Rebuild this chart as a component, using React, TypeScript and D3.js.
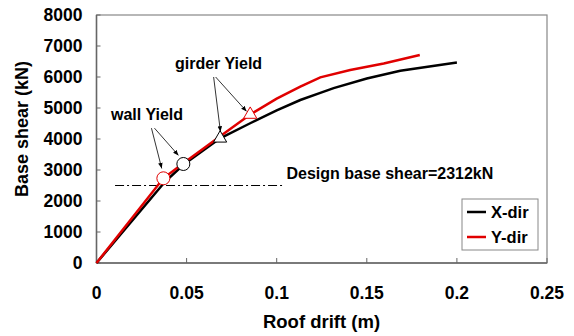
import React from 'react';
import * as d3 from 'd3';

// pushover curves
const xDirDrift = [0, 0.038, 0.0482, 0.0686, 0.085, 0.1, 0.1131, 0.1242, 0.1316, 0.15, 0.1686, 0.2];
const xDirShear = [0, 2620, 3170, 4023, 4500, 4920, 5258, 5490, 5640, 5950, 6200, 6465];
const yDirDrift = [0, 0.0371, 0.048, 0.0696, 0.0853, 0.1, 0.1131, 0.1242, 0.1408, 0.1594, 0.1794];
const yDirShear = [0, 2732, 3210, 4130, 4790, 5300, 5687, 5990, 6226, 6435, 6710];

const xTicks = [0, 0.05, 0.1, 0.15, 0.2, 0.25];
const yTicks = [0, 1000, 2000, 3000, 4000, 5000, 6000, 7000, 8000];

// yield markers: [drift, shear, series]
const wallYield = [[0.0371, 2732, 'Y'], [0.0482, 3194, 'X']];
const girderYield = [[0.0686, 4023, 'X'], [0.0853, 4790, 'Y']];

const designShear = 2500;
const designSpan = [0.0103, 0.1034];

const font = 'Arial, "Liberation Sans", sans-serif';

const App = () => {
  const margin = { top: 15, right: 27, bottom: 73, left: 96.5 };
  const W = 574;
  const H = 336;
  const width = W - margin.left - margin.right;
  const height = H - margin.top - margin.bottom;

  const x = d3.scaleLinear().domain([0, 0.25]).range([0, width]);
  const y = d3.scaleLinear().domain([0, 8000]).range([height, 0]);

  const line = d3.line<number>().x((d) => x(d[0])).y((d) => y(d[1]));
  const xPts = xDirDrift.map((d, i) => [d, xDirShear[i]]);
  const yPts = yDirDrift.map((d, i) => [d, yDirShear[i]]);

  const colorOf = (s) => (s === 'X' ? '#000' : '#e00000');
  const tri = d3.symbol().type(d3.symbolTriangle).size(75)();

  // arrow start points in data units
  const wallFrom = [0.0305, 4350];
  const girderFrom = [0.065, 6000];

  return (
    <svg width={W} height={H} style={{ position: 'absolute', left: 0, top: 0 }}>
      <defs>
        <marker id="arr" viewBox="0 0 10 10" refX="10" refY="5" markerWidth="7" markerHeight="7" orient="auto">
          <path d="M0,1 L10,5 L0,9 z" fill="#000" />
        </marker>
      </defs>
      <rect width={W} height={H} fill="#fff" />
      <g transform={`translate(${margin.left},${margin.top})`}>
        {/* frame */}
        <rect x={0} y={0} width={width} height={height} fill="none" stroke="#888" strokeWidth={1.2} />
        <line x1={0} x2={0} y1={0} y2={height} stroke="#666" strokeWidth={1.5} />
        <line x1={0} x2={width} y1={height} y2={height} stroke="#666" strokeWidth={1.5} />
        {yTicks.map((t) => (
          <g key={t}>
            <line x1={0} x2={4} y1={y(t)} y2={y(t)} stroke="#666" />
            <text x={-14} y={y(t)} dy="0.36em" textAnchor="end" fontFamily={font} fontWeight="bold" fontSize={17.5}>{t}</text>
          </g>
        ))}
        {xTicks.map((t) => (
          <g key={t}>
            <line x1={x(t)} x2={x(t)} y1={height} y2={height - 5} stroke="#666" />
            <text x={x(t)} y={height + 36} textAnchor="middle" fontFamily={font} fontWeight="bold" fontSize={17.5}>{t}</text>
          </g>
        ))}

        {/* design base shear */}
        <line x1={x(designSpan[0])} x2={x(designSpan[1])} y1={y(designShear)} y2={y(designShear)}
          stroke="#000" strokeWidth={1} strokeDasharray="9,3,2,3" />
        <text x={190} y={y(designShear) - 7} fontFamily={font} fontWeight="bold" fontSize={16}>Design base shear=2312kN</text>

        <path d={line(xPts)} fill="none" stroke="#000" strokeWidth={2.5} />
        <path d={line(yPts)} fill="none" stroke="#e00000" strokeWidth={2.5} />

        {wallYield.map((d, i) => (
          <circle key={i} cx={x(d[0])} cy={y(d[1])} r={6.5} fill="#fff" stroke={colorOf(d[2])} strokeWidth={1} />
        ))}
        {girderYield.map((d, i) => (
          <path key={i} d={tri} transform={`translate(${x(d[0])},${y(d[1])})`} fill="#fff" stroke={colorOf(d[2])} strokeWidth={1} />
        ))}

        {/* annotations */}
        <text x={14.5} y={y(4613)} fontFamily={font} fontWeight="bold" fontSize={16}>wall Yield</text>
        <line x1={x(wallFrom[0])} y1={y(wallFrom[1])} x2={x(0.0362)} y2={y(3050)} stroke="#000" strokeWidth={0.8} markerEnd="url(#arr)" />
        <line x1={x(wallFrom[0]) + 3} y1={y(wallFrom[1])} x2={x(0.0455)} y2={y(3470)} stroke="#000" strokeWidth={0.8} markerEnd="url(#arr)" />
        <text x={78.5} y={y(6274)} fontFamily={font} fontWeight="bold" fontSize={16}>girder Yield</text>
        <line x1={x(girderFrom[0])} y1={y(girderFrom[1])} x2={x(0.0688)} y2={y(4230)} stroke="#000" strokeWidth={0.8} markerEnd="url(#arr)" />
        <line x1={x(girderFrom[0]) + 2} y1={y(girderFrom[1])} x2={x(0.0833)} y2={y(4890)} stroke="#000" strokeWidth={0.8} markerEnd="url(#arr)" />

        {/* legend */}
        <g transform={`translate(${width - 85},${height - 64})`}>
          <rect x={0} y={0} width={76} height={51} fill="#fff" stroke="#888" />
          <line x1={5} x2={24} y1={13} y2={13} stroke="#000" strokeWidth={2.5} />
          <text x={29} y={13} dy="0.36em" fontFamily={font} fontWeight="bold" fontSize={16.5}>X-dir</text>
          <line x1={5} x2={24} y1={38} y2={38} stroke="#e00000" strokeWidth={2.5} />
          <text x={29} y={38} dy="0.36em" fontFamily={font} fontWeight="bold" fontSize={16.5}>Y-dir</text>
        </g>
      </g>
      <text x={321.5} y={328} textAnchor="middle" fontFamily={font} fontWeight="bold" fontSize={18.5}>Roof drift (m)</text>
      <text transform="translate(28,129) rotate(-90)" textAnchor="middle" fontFamily={font} fontWeight="bold" fontSize={18}>Base shear (kN)</text>
    </svg>
  );
};

export default App;
